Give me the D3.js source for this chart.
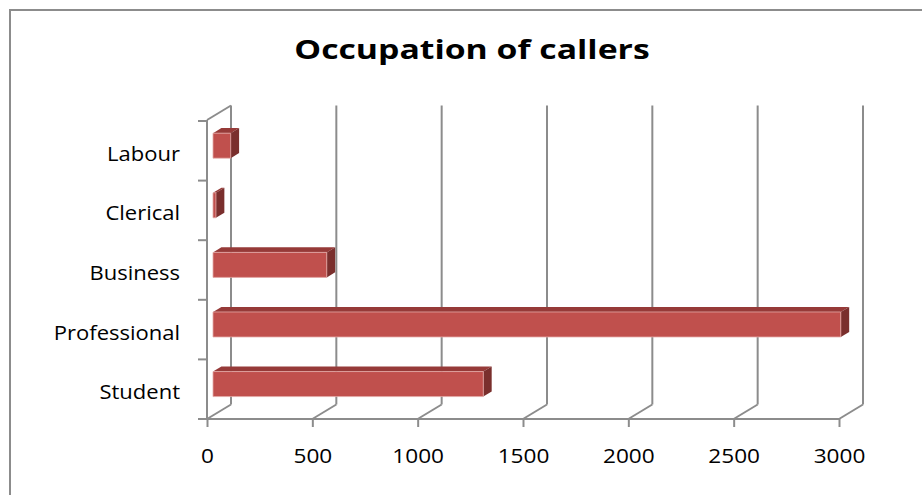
<!DOCTYPE html>
<html>
<head>
<meta charset="utf-8">
<script src="https://cdn.jsdelivr.net/npm/d3@7"></script>
<style>
  body { margin: 0; background: #fff; }
  svg text { font-family: "Open Sans", sans-serif; fill: #000; }
</style>
</head>
<body>
<div class="chart"></div>
<script>
// bottom to top, as Excel draws them
var categories = ["Student", "Professional", "Business", "Clerical", "Labour"];
var callers = [1283, 2980, 540, 14, 84];
var xTicks = [0, 500, 1000, 1500, 2000, 2500, 3000];
var title = "Occupation of callers";

var W = 922, H = 495;
var grid = "#8c8c8c";

var svg = d3.select(".chart").append("svg")
  .attr("width", W)
  .attr("height", H);

// outer chart area border (right/bottom fall outside the picture)
svg.append("rect")
  .attr("x", 10).attr("y", 10)
  .attr("width", W + 20).attr("height", H + 20)
  .attr("fill", "#fff")
  .attr("stroke", grid)
  .attr("stroke-width", 2);

// the original text is a bit wider than our fonts, stretch it
function stretch(sel, k) {
  sel.each(function() {
    var len = this.getComputedTextLength();
    d3.select(this)
      .attr("textLength", len * k)
      .attr("lengthAdjust", "spacingAndGlyphs");
  });
}

svg.append("text")
  .attr("x", 472).attr("y", 59)
  .attr("text-anchor", "middle")
  .style("font-size", "27px")
  .style("font-weight", "bold")
  .text(title)
  .call(stretch, 1.25);

var x = d3.scaleLinear().domain([0, 3000]).range([207, 839]);
var y = d3.scaleBand().domain(categories).range([419, 121]);
var yTop = 121, yBot = 419;

// depth vector of the 3d box
var depth = {dx: 24, dy: -14.5};
function off(z) { return [depth.dx * z, depth.dy * z]; }

var g = svg.append("g");

// back wall: vertical gridlines at every x tick
g.selectAll(".vgrid")
  .data(xTicks)
  .enter().append("line")
    .attr("x1", function(d) { return x(d) + depth.dx; })
    .attr("x2", function(d) { return x(d) + depth.dx; })
    .attr("y1", yBot + depth.dy)
    .attr("y2", yTop + depth.dy - 1)
    .attr("stroke", grid).attr("stroke-width", 2);

// floor: diagonals from front ticks to back wall
g.selectAll(".floor")
  .data(xTicks)
  .enter().append("line")
    .attr("x1", function(d) { return x(d); })
    .attr("y1", yBot)
    .attr("x2", function(d) { return x(d) + depth.dx; })
    .attr("y2", yBot + depth.dy)
    .attr("stroke", grid).attr("stroke-width", 2);

// left wall top edge + front left axis
g.append("line")
  .attr("x1", x(0)).attr("y1", yTop - 1)
  .attr("x2", x(0) + depth.dx).attr("y2", yTop - 1 + depth.dy)
  .attr("stroke", grid).attr("stroke-width", 2);
g.append("line")
  .attr("x1", x(0)).attr("y1", yTop - 1)
  .attr("x2", x(0)).attr("y2", yBot)
  .attr("stroke", grid).attr("stroke-width", 2);

// category boundary ticks on the left axis
var bounds = categories.map(function(c) { return y(c); }).concat([yBot]);
g.selectAll(".ytick")
  .data(bounds)
  .enter().append("line")
    .attr("x1", x(0) - 9).attr("x2", x(0))
    .attr("y1", function(d) { return d; })
    .attr("y2", function(d) { return d; })
    .attr("stroke", grid).attr("stroke-width", 2);

// front x axis
var xAxis = g.append("g")
  .attr("transform", "translate(0," + yBot + ")")
  .call(d3.axisBottom(x).tickValues(xTicks).tickFormat(d3.format("d"))
    .tickSizeInner(8).tickSizeOuter(0).tickPadding(22));
xAxis.select(".domain").attr("stroke", grid).attr("stroke-width", 2)
  .attr("d", "M" + (x(0) - 7) + ",0H" + x(3000));
xAxis.selectAll(".tick line").attr("stroke", grid).attr("stroke-width", 2);
xAxis.selectAll(".tick text")
  .style("font-size", "20px")
  .style("font-family", "'Open Sans', sans-serif")
  .attr("fill", "#000")
  .call(stretch, 1.13);

// category labels
var yAxis = g.append("g")
  .attr("transform", "translate(180,0)")
  .call(d3.axisLeft(y).tickSize(0).tickPadding(0));
yAxis.select(".domain").remove();
yAxis.selectAll(".tick text")
  .attr("dy", "0.5em")
  .style("font-size", "20px")
  .style("font-family", "'Open Sans', sans-serif")
  .attr("fill", "#000")
  .call(stretch, 1.1);

// 3d bars
var z0 = 0.25, z1 = 0.6, thick = 25;
var bars = g.selectAll(".bar")
  .data(categories.map(function(c, i) { return {name: c, value: callers[i]}; }))
  .enter().append("g")
    .attr("class", "bar");

function face(d) {
  var cy = y(d.name) + y.bandwidth() / 2 - 1.5;
  var a = off(z0), b = off(z1);
  var x0 = x(0), x1 = x(d.value);
  var t = cy - thick / 2, bt = cy + thick / 2;
  return {
    front: [[x0 + a[0], t + a[1]], [x1 + a[0], t + a[1]], [x1 + a[0], bt + a[1]], [x0 + a[0], bt + a[1]]],
    top: [[x0 + a[0], t + a[1]], [x0 + b[0], t + b[1]], [x1 + b[0], t + b[1]], [x1 + a[0], t + a[1]]],
    side: [[x1 + a[0], t + a[1]], [x1 + b[0], t + b[1]], [x1 + b[0], bt + b[1]], [x1 + a[0], bt + a[1]]]
  };
}
function pts(p) { return p.map(function(q) { return q.join(","); }).join(" "); }

bars.append("polygon")
  .attr("points", function(d) { return pts(face(d).top); })
  .attr("fill", "#963a38");
bars.append("polygon")
  .attr("points", function(d) { return pts(face(d).side); })
  .attr("fill", "#7a2f2d");
bars.append("polygon")
  .attr("points", function(d) { return pts(face(d).front); })
  .attr("fill", "#c0504d")
  .attr("stroke", "#e3a9a7")
  .attr("stroke-width", 0.8);
</script>
</body>
</html>
